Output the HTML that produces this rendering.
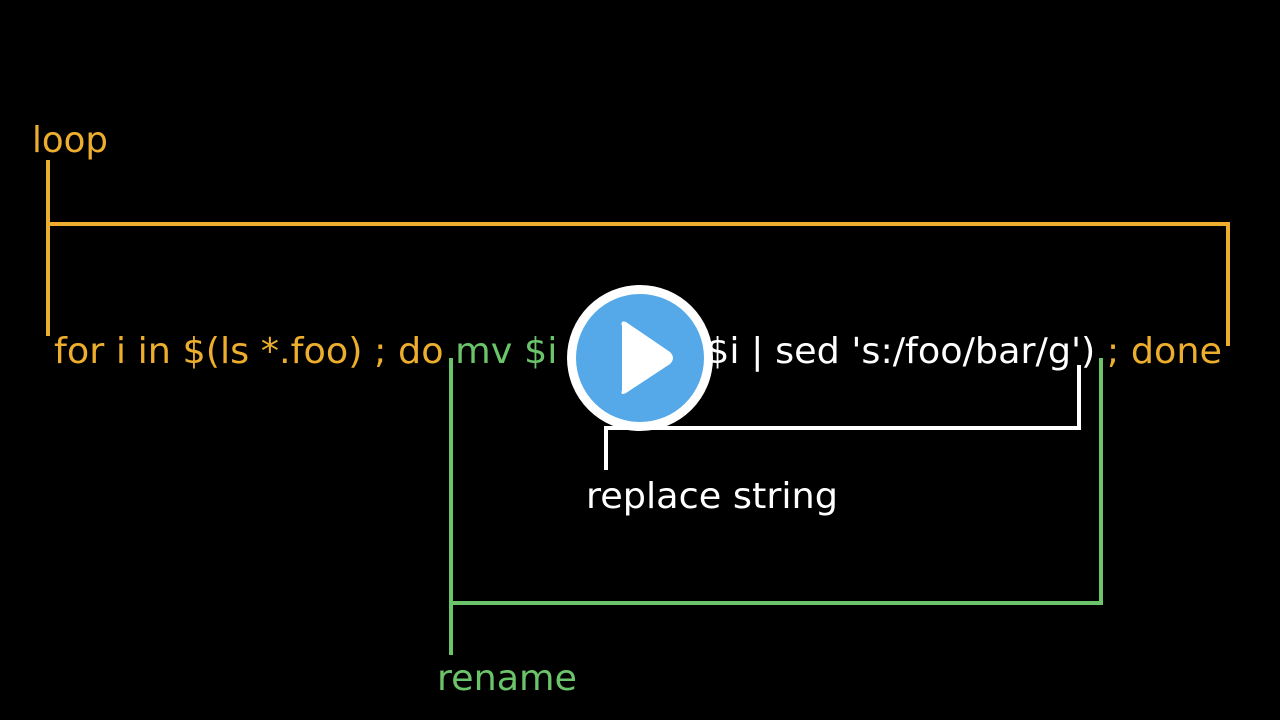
<!DOCTYPE html>
<html><head><style>html,body{margin:0;padding:0;background:#000;}svg{display:block}</style></head>
<body>
<svg width="1280" height="720" viewBox="0 0 1280 720" xmlns="http://www.w3.org/2000/svg" font-family="DejaVu Sans, Liberation Sans, sans-serif">
<rect width="1280" height="720" fill="#000"/>
<g stroke-width="4" fill="none">
<polyline points="48,160 48,336" stroke="#ecae2c"/>
<polyline points="48,224 1228,224 1228,346" stroke="#ecae2c"/>
<polyline points="451,358 451,655" stroke="#6cc46a"/>
<polyline points="451,603 1101,603 1101,358" stroke="#6cc46a"/>
<polyline points="606,470 606,428 1079,428 1079,365" stroke="#fff"/>
</g>
<text x="32" y="152" font-size="36" fill="#ecae2c" textLength="76" lengthAdjust="spacingAndGlyphs">loop</text>
<text x="54" y="363" font-size="36" textLength="1168" lengthAdjust="spacingAndGlyphs"><tspan fill="#ecae2c">for i in $(ls *.foo) ; do </tspan><tspan fill="#6cc46a">mv $i </tspan><tspan fill="#fff">$(echo $i | sed 's:/foo/bar/g')</tspan><tspan fill="#ecae2c"> ; done</tspan></text>
<text x="586" y="508" font-size="36" fill="#fff" textLength="252" lengthAdjust="spacingAndGlyphs">replace string</text>
<text x="437" y="690" font-size="36" fill="#6cc46a" textLength="140" lengthAdjust="spacingAndGlyphs">rename</text>
<circle cx="640" cy="358" r="73" fill="#fff"/>
<circle cx="640" cy="358" r="64" fill="#55a9e8"/>
<path d="M622,326 Q620,320 626,322 L670,352 Q676,358 670,364 L626,393 Q620,396 622,390 Z" fill="#fff"/>
</svg>
</body></html>
